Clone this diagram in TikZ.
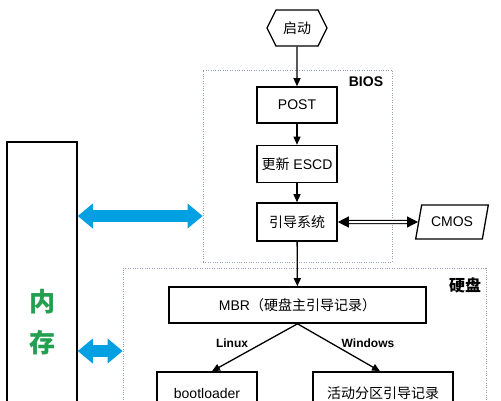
\documentclass[tikz,border=0pt]{standalone}
\usepackage{fontspec}
\setmainfont{Liberation Sans}
\newfontfamily\cjk{Noto Sans CJK SC}
\usetikzlibrary{arrows.meta,shapes.geometric,shapes.symbols,positioning}

\definecolor{busblue}{RGB}{0,160,226}
\definecolor{memgreen}{RGB}{34,160,80}
\definecolor{dotgrey}{RGB}{150,160,178}

\tikzset{
  stepbox/.style={draw, line width=1.6pt, minimum width=80pt, minimum height=37pt, inner sep=2pt, font=\fontsize{14}{16}\selectfont},
  grpbox/.style={draw=dotgrey, line width=0.8pt, dash pattern=on 0.8pt off 1.6pt},
  flow/.style={line width=1.3pt, -{Triangle[length=8pt,width=7pt]}},
  bus/.style={busblue, line width=12pt, {Triangle[length=15pt,width=25pt,line width=0pt]}-{Triangle[length=15pt,width=25pt,line width=0pt]}},
  tag/.style={font=\bfseries\fontsize{12}{14}\selectfont},
}

\begin{document}
\begin{tikzpicture}[x=1pt,y=-1pt]
\useasboundingbox (0,0) rectangle (501,400);
\clip (0,0) rectangle (501,400);

\node[grpbox, minimum width=189pt, minimum height=192pt] (bios) at (297.5,166) {};
\node[grpbox, minimum width=363pt, minimum height=170pt] (disk) at (304.5,353) {};
\node[tag, font=\bfseries\fontsize{14}{16}\selectfont] (biostag) at (366,82) {BIOS};
\node[tag, font=\cjk\bfseries\fontsize{16}{18}\selectfont] (disktag) at (465,285) {硬盘};

\node[draw, line width=1.3pt, signal, signal to=west and east, signal pointer angle=127,
  minimum width=60pt, minimum height=36pt, inner sep=0pt, font=\cjk\fontsize{14}{16}\selectfont] (start) at (297,28) {启动};
\node[stepbox, minimum height=36pt] (post) at (297,105) {POST};
\node[stepbox] (escd) at (297,164) {{\cjk 更新} ESCD};
\node[stepbox, minimum height=38pt] (sys) at (297,222) {\cjk 引导系统};
\node[draw, line width=1.3pt, trapezium, trapezium left angle=70, trapezium right angle=110,
  trapezium stretches=true, minimum width=73pt, minimum height=34pt, inner sep=1pt,
  font=\fontsize{14}{16}\selectfont] (cmos) at (452,222) {CMOS};
\node[stepbox, minimum width=257pt, minimum height=36pt] (mbr) at (297.5,305) {MBR{\cjk （硬盘主引导记录）}};
\node[stepbox, minimum width=100pt, minimum height=42pt] (boot) at (207,393) {bootloader};
\node[stepbox, minimum width=140pt, minimum height=42pt] (act) at (383,393) {\cjk 活动分区引导记录};
\node[draw, line width=1.6pt, minimum width=70pt, minimum height=360pt, align=center, text=memgreen,
  font=\cjk\bfseries\fontsize{26}{41}\selectfont] (mem) at (42,322) {内\\存};

\node[tag] (linux) at (232,343) {Linux};
\node[tag] (win) at (368,343) {Windows};

\draw[flow] (start) -- (post);
\draw[flow] (post) -- (escd);
\draw[flow] (escd) -- (sys);
\draw[flow] (sys) -- (mbr);
\draw[flow] (mbr.south) -- ([xshift=5pt]boot.north);
\draw[flow] (mbr.south) -- ([xshift=-3pt]act.north);
\draw[double, double distance=2pt, line width=1.2pt, {Triangle[length=11pt,width=11pt]}-{Triangle[length=11pt,width=11pt]}] (sys) -- (cmos);

\draw[bus] (mem.east |- 0,216) -- (bios.west |- 0,216);
\draw[bus] (mem.east |- 0,351) -- (disk.west |- 0,351);

\end{tikzpicture}
\end{document}
